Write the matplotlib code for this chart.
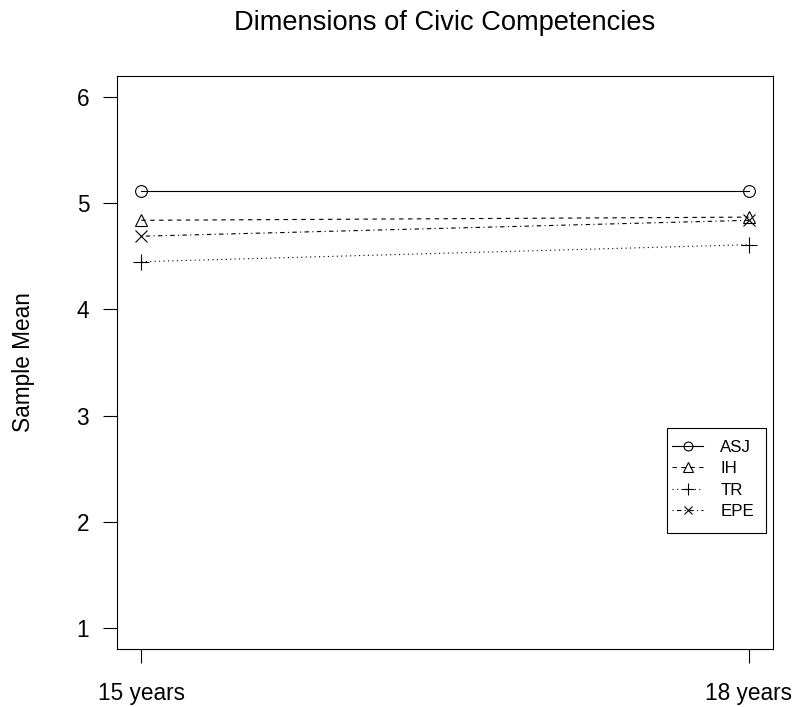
import numpy as np
import matplotlib.pyplot as plt
from matplotlib.patches import Rectangle

plt.rcParams['font.family'] = ['Liberation Sans', 'DejaVu Sans']

ages = ["15 years", "18 years"]
asj = [5.12, 5.12]
ih = [4.84, 4.87]
tr = [4.45, 4.61]
epe = [4.69, 4.84]

x = np.arange(1, len(ages) + 1)

W, H = 795, 707
fig = plt.figure(figsize=(W / 100, H / 100), dpi=100)
ax = fig.add_axes([117 / W, 1 - 649 / H, (773 - 117) / W, (649 - 76) / H])

lw = 0.8
ax.plot(x, asj, color='black', lw=lw, ls='-', marker='o', ms=8.5, mfc='none', mew=lw, label='ASJ')
ax.plot(x, ih, color='black', lw=lw, ls=(0, (4, 4)), marker='^', ms=9, mfc='none', mew=lw, label='IH')
ax.plot(x, tr, color='black', lw=lw, ls=(0, (1, 3)), marker='+', ms=12, mew=lw, label='TR')
ax.plot(x, epe, color='black', lw=lw, ls=(0, (1, 3, 4, 3)), marker='x', ms=8, mew=lw, label='EPE')

ax.set_xlim(0.96, 2.04)
ax.set_ylim(0.8, 6.2)
ax.set_xticks(x)
ax.set_xticklabels(ages)
ax.set_yticks([1, 2, 3, 4, 5, 6])
ax.tick_params(axis='both', labelsize=16.3, length=10, width=lw, direction='out', pad=10)
ax.tick_params(axis='x', pad=14)
for s in ax.spines.values():
    s.set_linewidth(lw)

ax.set_ylabel('Sample Mean', fontsize=16.3, labelpad=30)
fig.text(445 / W, 1 - 30 / H, 'Dimensions of Civic Competencies', fontsize=19.6,
         ha='center', va='baseline')

# legend: R-style box drawn separately
leg = ax.legend(loc='upper left', bbox_to_anchor=(672 / W, 1 - 440 / H),
                bbox_transform=fig.transFigure, fontsize=12.2, frameon=False,
                borderpad=0, labelspacing=0.37, handlelength=1.85,
                handletextpad=1.0, borderaxespad=0)
for h in leg.legend_handles:
    h.set_markersize(h.get_markersize() * 0.75)
fig.add_artist(Rectangle((667 / W, 1 - 533 / H), (766 - 667) / W, (533 - 428) / H,
                         transform=fig.transFigure, fill=False, edgecolor='black', lw=lw))

fig.savefig('out.png', dpi=100)
